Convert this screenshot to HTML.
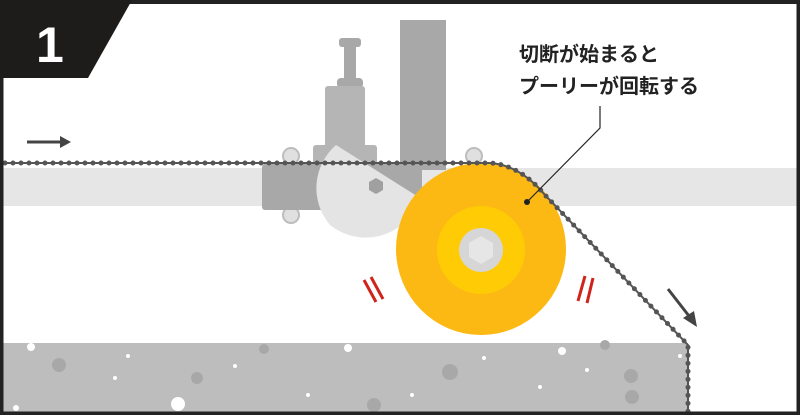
<!DOCTYPE html>
<html><head><meta charset="utf-8"><style>
html,body{margin:0;padding:0;background:#fff}
svg{display:block}
text{font-family:"Liberation Sans","Noto Sans CJK JP",sans-serif}
</style></head><body>
<svg width="800" height="415" viewBox="0 0 800 415">
<rect width="800" height="415" fill="#fff"/>
<rect x="0" y="343" width="688" height="72" fill="#bdbdbd"/>
<g fill="#a8a8a8">
<circle cx="59" cy="365" r="7"/><circle cx="197" cy="378" r="6"/><circle cx="264" cy="349" r="5"/><circle cx="450" cy="372" r="8"/><circle cx="374" cy="405" r="7"/><circle cx="631" cy="376" r="7"/><circle cx="632" cy="397" r="7"/><circle cx="605" cy="345" r="5"/>
</g>
<g fill="#fff">
<circle cx="31" cy="347" r="4"/><circle cx="348" cy="348" r="4"/><circle cx="562" cy="351" r="4"/><circle cx="178" cy="404" r="7"/><circle cx="128" cy="356" r="2"/><circle cx="235" cy="366" r="2"/><circle cx="115" cy="378" r="2"/><circle cx="308" cy="395" r="2"/><circle cx="484" cy="358" r="2"/><circle cx="540" cy="387" r="2"/><circle cx="587" cy="370" r="2"/><circle cx="412" cy="395" r="2"/><circle cx="680" cy="356" r="2"/><circle cx="16" cy="408" r="3"/>
</g>
<rect x="0" y="168" width="800" height="38" fill="#e6e6e6"/>
<rect x="400" y="20" width="46" height="150" fill="#a8a8a8"/>
<rect x="339" y="38" width="22" height="9" rx="3" fill="#a8a8a8"/>
<rect x="344" y="44" width="12" height="40" fill="#a8a8a8"/>
<rect x="337" y="78" width="26" height="10" rx="4" fill="#a8a8a8"/>
<rect x="325" y="86" width="40" height="66" rx="3" fill="#b5b5b5"/>
<rect x="313" y="145" width="64" height="22" rx="3" fill="#b5b5b5"/>
<circle cx="291" cy="156" r="8" fill="#e0e0e0" stroke="#bdbdbd" stroke-width="2"/>
<circle cx="291" cy="215" r="8" fill="#e0e0e0" stroke="#bdbdbd" stroke-width="2"/>
<circle cx="474" cy="156" r="8" fill="#e0e0e0" stroke="#bdbdbd" stroke-width="2"/>
<rect x="262" y="164" width="160" height="46" rx="3" fill="#a8a8a8"/>
<path d="M336 145 L420 198 A57 57 0 0 1 330 225 A57 57 0 0 1 336 145 Z" fill="#e4e4e4"/>
<polygon points="376,178 383,182 383,190 376,194 369,190 369,182" fill="#a0a0a0"/>
<ellipse cx="481" cy="249" rx="85" ry="86" fill="#fdb913"/>
<circle cx="481" cy="250" r="44" fill="#ffcb05"/>
<circle cx="481" cy="250" r="22" fill="#d6d6d6"/>
<polygon points="481,236 493,243 493,257 481,264 469,257 469,243" fill="#e6e6e6"/>
<path d="M5 163 L490 163 Q520 165 545 195 L688 345 L688 415" fill="none" stroke="#555" stroke-width="2"/>
<path d="M5 163 L490 163 Q520 165 545 195 L688 345 L688 415" fill="none" stroke="#555" stroke-width="5" stroke-linecap="round" stroke-dasharray="0 8"/>
<path d="M600 106 L600 128 L527 202" fill="none" stroke="#222" stroke-width="1.2"/>
<circle cx="527" cy="202" r="3" fill="#222"/>
<g stroke="#d0231c" stroke-width="3">
<line x1="364" y1="280" x2="376" y2="302"/><line x1="371" y1="277" x2="383" y2="299"/>
<line x1="585" y1="276" x2="578" y2="301"/><line x1="593" y1="278" x2="587" y2="303"/>
</g>
<line x1="27" y1="142" x2="62" y2="142" stroke="#444" stroke-width="3"/>
<polygon points="60,136 71,142 60,148" fill="#444"/>
<line x1="668" y1="289" x2="689" y2="316" stroke="#444" stroke-width="3"/>
<polygon points="683,318 697,327 694,311" fill="#444"/>
<text x="519" y="61" font-size="20" font-weight="bold" fill="#222">切断が始まると</text>
<text x="519" y="93" font-size="20" font-weight="bold" fill="#222">プーリーが回転する</text>
<rect x="1.5" y="2" width="797" height="411.5" fill="none" stroke="#222" stroke-width="4"/>
<polygon points="0,0 132,0 88,78 0,78" fill="#1e1b1b"/>
<text x="36" y="62" font-size="50" font-weight="bold" fill="#fff">1</text>
</svg>
</body></html>
